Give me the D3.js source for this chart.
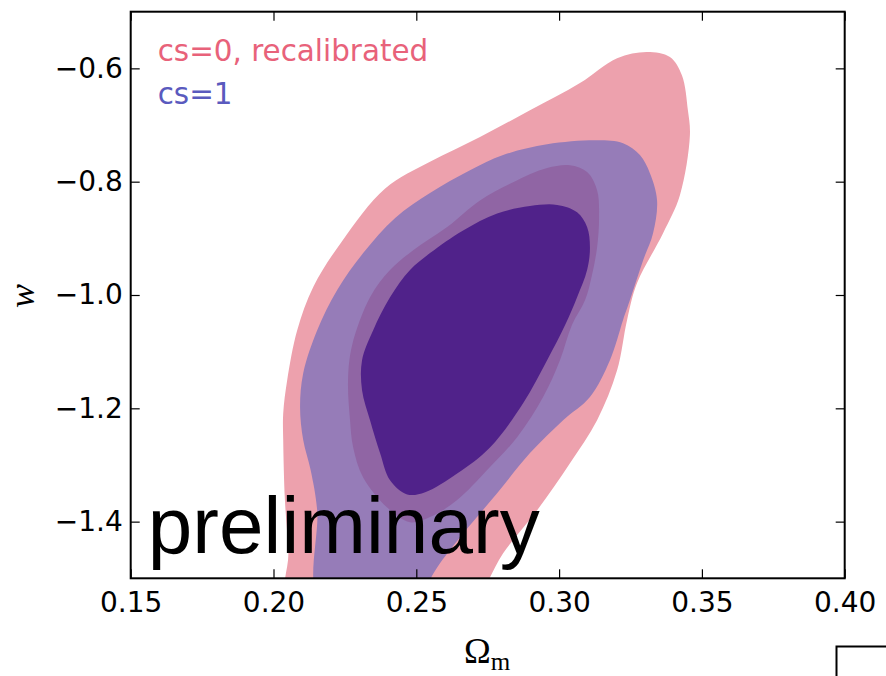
<!DOCTYPE html>
<html>
<head>
<meta charset="utf-8">
<script src="https://cdn.jsdelivr.net/npm/d3@7"></script>
<style>
  body { margin: 0; background: #fff; }
  svg { display: block; }
  .tick text { font-family: "DejaVu Sans", sans-serif; font-size: 28px; fill: #000; }
  .tick line { stroke: #000; stroke-width: 1.2; }
</style>
</head>
<body>
<div id="chart"></div>
<script>
// axis ranges and ticks
const xDomain = [0.15, 0.40];
const yDomain = [-1.5, -0.5];
const xTicks = [0.15, 0.20, 0.25, 0.30, 0.35, 0.40];
const yTicks = [-1.4, -1.2, -1.0, -0.8, -0.6];

// contour outlines, [omega_m, w]
const cs0Outer = [
  [0.2051,-1.539],[0.2052,-1.456],[0.2040,-1.362],[0.2034,-1.256],[0.2034,-1.209],
  [0.2048,-1.150],[0.2083,-1.062],[0.2140,-0.985],[0.2240,-0.905],[0.2391,-0.812],
  [0.2548,-0.765],[0.2723,-0.721],[0.2898,-0.674],[0.3073,-0.626],[0.3203,-0.582],
  [0.3308,-0.571],[0.3388,-0.580],[0.3430,-0.612],[0.3451,-0.674],[0.3458,-0.718],
  [0.3423,-0.824],[0.3364,-0.891],[0.3273,-0.979],[0.3238,-1.044],[0.3203,-1.133],
  [0.3133,-1.221],[0.3038,-1.297],[0.2923,-1.380],[0.2804,-1.456],[0.2752,-1.504],
  [0.2710,-1.539],[0.2373,-1.574]
];
const cs1Outer = [
  [0.2158,-1.539],[0.2153,-1.380],[0.2130,-1.309],[0.2104,-1.256],[0.2093,-1.198],
  [0.2104,-1.138],[0.2153,-1.062],[0.2223,-0.991],[0.2314,-0.926],[0.2426,-0.864],
  [0.2548,-0.820],[0.2688,-0.780],[0.2804,-0.753],[0.2958,-0.734],[0.3133,-0.727],
  [0.3224,-0.732],[0.3283,-0.753],[0.3318,-0.785],[0.3343,-0.833],[0.3329,-0.891],
  [0.3294,-0.939],[0.3248,-1.009],[0.3224,-1.044],[0.3178,-1.115],[0.3108,-1.180],
  [0.3014,-1.221],[0.2898,-1.279],[0.2783,-1.350],[0.2664,-1.421],[0.2573,-1.481],
  [0.2548,-1.504],[0.2531,-1.539],[0.2338,-1.574]
];
const cs0Inner = [
  [0.2478,-1.401],[0.2398,-1.375],[0.2314,-1.322],[0.2279,-1.269],[0.2268,-1.221],
  [0.2261,-1.150],[0.2275,-1.089],[0.2338,-1.004],[0.2408,-0.956],[0.2489,-0.921],
  [0.2608,-0.880],[0.2723,-0.833],[0.2839,-0.801],[0.2958,-0.776],[0.3038,-0.771],
  [0.3098,-0.783],[0.3133,-0.815],[0.3140,-0.863],[0.3133,-0.916],[0.3115,-0.965],
  [0.3091,-1.009],[0.3045,-1.053],[0.3003,-1.115],[0.2944,-1.180],[0.2853,-1.251],
  [0.2748,-1.309],[0.2643,-1.362],[0.2548,-1.392]
];
const cs1Inner = [
  [0.2468,-1.352],[0.2408,-1.327],[0.2373,-1.279],[0.2338,-1.221],[0.2310,-1.168],
  [0.2310,-1.115],[0.2349,-1.062],[0.2408,-1.004],[0.2478,-0.956],[0.2548,-0.926],
  [0.2664,-0.886],[0.2783,-0.856],[0.2898,-0.843],[0.2993,-0.841],[0.3063,-0.854],
  [0.3098,-0.880],[0.3108,-0.916],[0.3098,-0.956],[0.3063,-1.004],[0.3021,-1.053],
  [0.2958,-1.115],[0.2874,-1.191],[0.2758,-1.269],[0.2643,-1.315],[0.2531,-1.348]
];

const regions = [
  {pts: cs0Outer, fill: "#eda1ad"},
  {pts: cs1Outer, fill: "#967cb8"},
  {pts: cs0Inner, fill: "#9065a4"},
  {pts: cs1Inner, fill: "#50228a"}
];
const legend = [
  {label: "cs=0, recalibrated", color: "#e8627a"},
  {label: "cs=1", color: "#5a5abe"}
];

const width = 886, height = 676;
const margin = {left: 130.7, top: 11.7, right: 886 - 844.7, bottom: 676 - 578.3};
const plotW = width - margin.left - margin.right;
const plotH = height - margin.top - margin.bottom;

const svg = d3.select("#chart").append("svg")
  .attr("width", width).attr("height", height);

const x = d3.scaleLinear().domain(xDomain).range([0, plotW]);
const y = d3.scaleLinear().domain(yDomain).range([plotH, 0]);

svg.append("defs").append("clipPath").attr("id", "plot-clip")
  .append("rect").attr("width", plotW).attr("height", plotH);

const g = svg.append("g").attr("transform", `translate(${margin.left},${margin.top})`);

const line = d3.line()
  .x(d => x(d[0])).y(d => y(d[1]))
  .curve(d3.curveCatmullRomClosed.alpha(0.5));

g.append("g").attr("clip-path", "url(#plot-clip)")
  .selectAll("path")
  .data(regions)
  .join("path")
  .attr("d", d => line(d.pts))
  .attr("fill", d => d.fill);

// ticks pointing inward on all four sides
g.append("g").attr("transform", `translate(0,${plotH})`)
  .call(d3.axisBottom(x).tickValues(xTicks).tickFormat(d3.format(".2f")).tickSize(-9).tickPadding(14))
  .call(a => a.select(".domain").remove());
g.append("g")
  .call(d3.axisTop(x).tickValues(xTicks).tickFormat("").tickSize(-9))
  .call(a => a.select(".domain").remove());
g.append("g")
  .call(d3.axisLeft(y).tickValues(yTicks).tickFormat(d3.format(".1f")).tickSize(-9).tickPadding(8))
  .call(a => a.select(".domain").remove());
g.append("g").attr("transform", `translate(${plotW},0)`)
  .call(d3.axisRight(y).tickValues(yTicks).tickFormat("").tickSize(-9))
  .call(a => a.select(".domain").remove());

g.selectAll(".tick text").attr("font-family", null).attr("font-size", null);

g.append("rect")
  .attr("width", plotW).attr("height", plotH)
  .attr("fill", "none").attr("stroke", "#000").attr("stroke-width", 2);

// legend text
g.selectAll("text.legend")
  .data(legend)
  .join("text")
  .attr("class", "legend")
  .attr("x", 27)
  .attr("y", (d, i) => 49.5 + i * 43)
  .attr("font-family", "DejaVu Sans, sans-serif")
  .attr("font-size", 29.4)
  .attr("fill", d => d.color)
  .text(d => d.label);

g.append("text")
  .attr("x", 17).attr("y", 541.5)
  .attr("font-family", "Liberation Sans, Arial, sans-serif")
  .attr("font-size", 80)
  .attr("textLength", 392)
  .attr("fill", "#000")
  .text("preliminary");

// axis labels
svg.append("text")
  .attr("transform", "translate(34,296) rotate(-90)")
  .attr("text-anchor", "middle")
  .attr("font-family", "Liberation Serif, serif")
  .attr("font-style", "italic")
  .attr("font-size", 36)
  .text("w");

const xl = svg.append("text")
  .attr("x", 464).attr("y", 663)
  .attr("font-family", "Liberation Serif, serif")
  .attr("font-size", 36);
xl.append("tspan").text("Ω");
xl.append("tspan").attr("font-size", 25).attr("dy", 7).text("m");

// corner of the neighbouring panel
svg.append("path")
  .attr("d", "M836.5,676V646.5H886")
  .attr("fill", "none").attr("stroke", "#000").attr("stroke-width", 2);
</script>
</body>
</html>
